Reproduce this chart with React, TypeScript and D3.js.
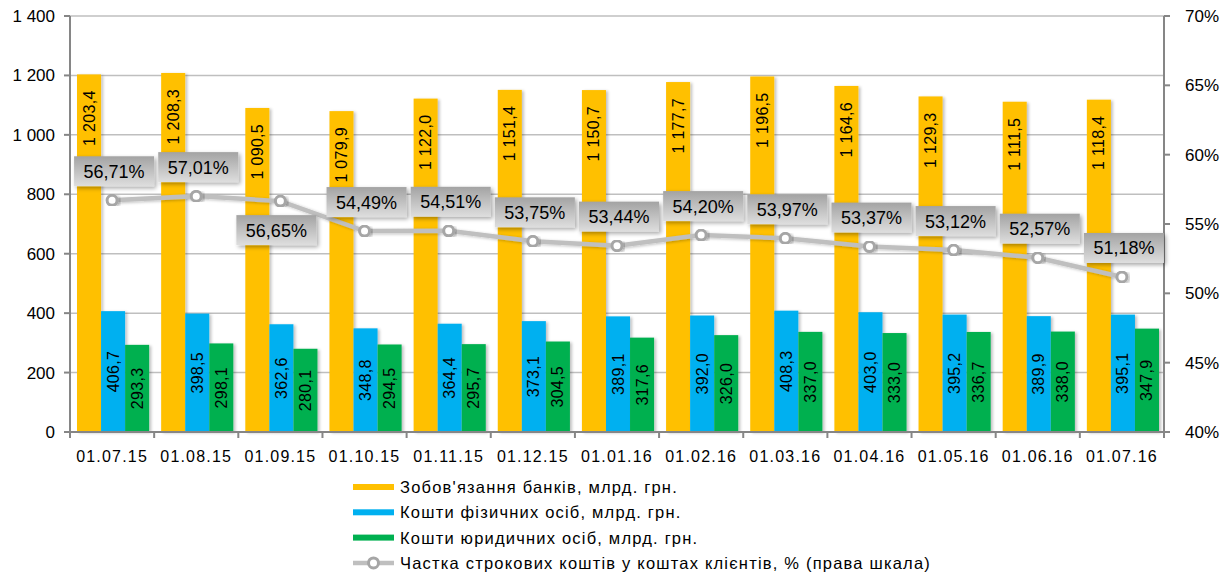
import React from "react";
import * as d3 from "d3";

const categories = ["01.07.15","01.08.15","01.09.15","01.10.15","01.11.15","01.12.15","01.01.16","01.02.16","01.03.16","01.04.16","01.05.16","01.06.16","01.07.16"];
const liabilities = [1203.4,1208.3,1090.5,1079.9,1122.0,1151.4,1150.7,1177.7,1196.5,1164.6,1129.3,1111.5,1118.4];
const individuals = [406.7,398.5,362.6,348.8,364.4,373.1,389.1,392.0,408.3,403.0,395.2,389.9,395.1];
const legalEntities = [293.3,298.1,280.1,294.5,295.7,304.5,317.6,326.0,337.0,333.0,336.7,338.0,347.9];
const termShare = [56.71,57.01,56.65,54.49,54.51,53.75,53.44,54.20,53.97,53.37,53.12,52.57,51.18];
const labelBelow = [false,false,true,false,false,false,false,false,false,false,false,false,false];
const leftTicks = [0,200,400,600,800,1000,1200,1400];
const rightTicks = [40,45,50,55,60,65,70];
const seriesNames = [
  "Зобов'язання банків, млрд. грн.",
  "Кошти фізичних осіб, млрд. грн.",
  "Кошти юридичних осіб, млрд. грн.",
  "Частка строкових коштів у коштах клієнтів, % (права шкала)",
];

const W = 1227, H = 575;
const X0 = 70, X1 = 1164, Y0 = 432, Y1 = 16;
const FONT = "'Liberation Sans', Arial, sans-serif";

const fmtNum = (v: number) => {
  const s = v.toFixed(1).replace(".", ",");
  const [i, f] = s.split(",");
  const ii = i.replace(/\B(?=(\d{3})+(?!\d))/g, " ");
  return ii + "," + f;
};
const fmtPct = (v: number) => v.toFixed(2).replace(".", ",") + "%";
const fmtTick = (v: number) => String(v).replace(/\B(?=(\d{3})+(?!\d))/g, " ");

export default function App() {
  const x = d3.scaleBand<string>().domain(categories).range([X0, X1]).paddingInner(0).paddingOuter(0);
  const y = d3.scaleLinear().domain([0, 1400]).range([Y0, Y1]);
  const y2 = d3.scaleLinear().domain([40, 70]).range([Y0, Y1]);
  const bw = x.bandwidth();
  const inner = d3.scaleBand<number>().domain([0, 1, 2]).range([7, bw - 5]).paddingInner(0);
  const barW = inner.bandwidth();
  const colors = ["#FFC000", "#00B0F0", "#00B050"];
  const series = [liabilities, individuals, legalEntities];
  const line = d3.line<number>().x((_, i) => x(categories[i])! + bw / 2).y((d) => y2(d));

  return (
    <svg width={W} height={H} style={{ position: "absolute", left: 0, top: 0, background: "#fff" }} fontFamily={FONT}>
      <defs>
        <linearGradient id="boxg" x1="0" y1="0" x2="0" y2="1">
          <stop offset="0" stopColor="#a3a3a3" />
          <stop offset="1" stopColor="#dedede" />
        </linearGradient>
        <filter id="sh" x="-20%" y="-20%" width="150%" height="160%">
          <feGaussianBlur in="SourceAlpha" stdDeviation="2" />
          <feOffset dx="2" dy="2" result="ob" />
          <feComponentTransfer><feFuncA type="linear" slope="0.35" /></feComponentTransfer>
          <feMerge><feMergeNode /><feMergeNode in="SourceGraphic" /></feMerge>
        </filter>
        <filter id="bsh" x="-30%" y="-5%" width="160%" height="110%">
          <feGaussianBlur in="SourceAlpha" stdDeviation="1.5" />
          <feOffset dx="2" dy="1" result="ob" />
          <feComponentTransfer><feFuncA type="linear" slope="0.25" /></feComponentTransfer>
          <feMerge><feMergeNode /><feMergeNode in="SourceGraphic" /></feMerge>
        </filter>
      </defs>
      {leftTicks.map((t) => (
        <line key={"g" + t} x1={X0} x2={X1} y1={y(t)} y2={y(t)} stroke="#bfbfbf" strokeWidth={1.5} />
      ))}
      {series.map((s, si) =>
        s.map((v, i) => (
          <rect key={si + "-" + i} x={x(categories[i])! + inner(si)!} y={y(v)} width={barW} height={Y0 - y(v)} fill={colors[si]} filter="url(#bsh)" />
        ))
      )}
      {liabilities.map((v, i) => {
        const cx = x(categories[i])! + inner(0)! + barW / 2;
        const ty = y(v) + 16;
        return (
          <text key={"lo" + i} transform={`translate(${cx + 5.5},${ty}) rotate(-90)`} textAnchor="end" fontSize={16} letterSpacing={0.3} fill="#000">{fmtNum(v)}</text>
        );
      })}
      {[individuals, legalEntities].map((s, k) =>
        s.map((v, i) => {
          const si = k + 1;
          const cx = x(categories[i])! + inner(si)! + barW / 2;
          const cy = (y(v) + Y0) / 2;
          return (
            <text key={"lb" + si + i} transform={`translate(${cx + 5.5},${cy}) rotate(-90)`} textAnchor="middle" fontSize={16} letterSpacing={0.3} fill="#000">{fmtNum(v)}</text>
          );
        })
      )}
      <line x1={X0} x2={X0} y1={Y1} y2={Y0} stroke="#868686" strokeWidth={2} />
      <line x1={X1} x2={X1} y1={Y1} y2={Y0} stroke="#868686" strokeWidth={2} />
      <line x1={X0} x2={X1} y1={Y0} y2={Y0} stroke="#868686" strokeWidth={2} />
      {leftTicks.map((t) => (
        <g key={"lt" + t}>
          <line x1={X0 - 6} x2={X0} y1={y(t)} y2={y(t)} stroke="#868686" strokeWidth={2} />
          <text x={X0 - 15} y={y(t) + 6} textAnchor="end" fontSize={17} fill="#000">{fmtTick(t)}</text>
        </g>
      ))}
      {rightTicks.map((t) => (
        <g key={"rt" + t}>
          <line x1={X1} x2={X1 + 6} y1={y2(t)} y2={y2(t)} stroke="#868686" strokeWidth={2} />
          <text x={X1 + 21} y={y2(t) + 6} textAnchor="start" fontSize={17} fill="#000">{t + "%"}</text>
        </g>
      ))}
      {d3.range(categories.length + 1).map((i) => {
        const xx = X0 + i * bw;
        return <line key={"bt" + i} x1={xx} x2={xx} y1={Y0} y2={Y0 + 6} stroke="#868686" strokeWidth={2} />;
      })}
      {categories.map((c) => (
        <text key={c} x={x(c)! + bw / 2} y={Y0 + 30} textAnchor="middle" fontSize={16} letterSpacing={1.2} fill="#000">{c}</text>
      ))}
      <path d={line(termShare) || ""} fill="none" stroke="#bfbfbf" strokeWidth={4.5} filter="url(#bsh)" />
      {termShare.map((v, i) => (
        <circle key={"c" + i} cx={x(categories[i])! + bw / 2} cy={y2(v)} r={5} fill="#fff" stroke="#a6a6a6" strokeWidth={3} filter="url(#bsh)" />
      ))}
      {termShare.map((v, i) => {
        const px = x(categories[i])! + bw / 2 + 2;
        const py = y2(v);
        const bwid = 80, bh = 30;
        const by = labelBelow[i] ? py + 14 : py - 14 - bh;
        const bx = labelBelow[i] ? px - 46 : px - bwid / 2;
        return (
          <g key={"p" + i}>
            <rect x={bx} y={by} width={bwid} height={bh} fill="url(#boxg)" filter="url(#sh)" />
            <text x={bx + bwid / 2} y={by + bh / 2 + 6.5} textAnchor="middle" fontSize={18} fill="#000">{fmtPct(v)}</text>
          </g>
        );
      })}
      {seriesNames.map((n, i) => {
        const ly = 487 + i * 25.3;
        return (
          <g key={"leg" + i}>
            {i < 3 ? (
              <rect x={353} y={ly - 3} width={41} height={6} fill={colors[i]} />
            ) : (
              <g>
                <line x1={353} x2={394} y1={ly} y2={ly} stroke="#bfbfbf" strokeWidth={4.5} />
                <circle cx={373.5} cy={ly} r={5} fill="#fff" stroke="#a6a6a6" strokeWidth={3} />
              </g>
            )}
            <text x={400} y={ly + 6} fontSize={16.5} letterSpacing={1.2} fill="#000">{n}</text>
          </g>
        );
      })}
    </svg>
  );
}
